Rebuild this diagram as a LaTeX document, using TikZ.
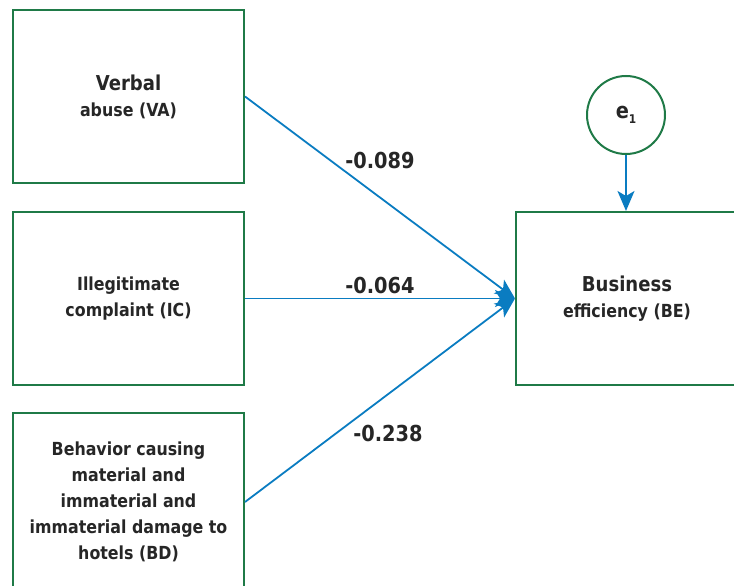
\documentclass[tikz,border=0pt]{standalone}
\usepackage{fontspec}
\setmainfont{DejaVu Sans}[FakeStretch=0.88]
\usetikzlibrary{arrows.meta}
\definecolor{boxgreen}{HTML}{1F7A47}
\definecolor{arrblue}{HTML}{0A7CC1}
\definecolor{txt}{HTML}{262626}
\begin{document}
\begin{tikzpicture}[x=1pt,y=-1pt,
  box/.style={draw=boxgreen, line width=2pt, rectangle, minimum width=231pt, minimum height=173pt,
    align=center, text=txt, font=\bfseries\fontsize{18}{26}\selectfont, inner sep=0pt},
  errc/.style={draw=boxgreen, line width=2pt, circle, minimum size=78pt, inner sep=0pt, text=txt,
    font=\bfseries\fontsize{22}{26}\selectfont},
  arr/.style={draw=arrblue, line width=1.8pt, -{Stealth[length=20pt,width=17pt,inset=5pt]}},
  coef/.style={text=txt, inner sep=0pt, font=\bfseries\fontsize{22}{26}\selectfont}]
\useasboundingbox (0,0) rectangle (734,586);
\begin{scope}
\clip (0,0) rectangle (734,586);
\node[box] (VA) at (128.5,96.5) {{\fontsize{20.5}{26}\selectfont Verbal}\\abuse (VA)};
\node[box] (IC) at (128.5,298.5) {Illegitimate\\complaint (IC)};
\node[box, minimum height=178pt] (BD) at (128.5,502) {Behavior causing\\material and\\immaterial and\\immaterial damage to\\hotels (BD)};
\node[box, minimum width=222pt] (BE) at (627,298.5) {{\fontsize{20.5}{26}\selectfont Business}\\efficiency (BE)};
\end{scope}
\node[errc] (e1) at (626,115) {e\raisebox{-5pt}{\fontsize{12}{12}\selectfont 1}};
\draw[arr] (e1) -- (e1 |- BE.north);
\draw[arr] (VA.east) -- (BE.west);
\draw[arr] (IC.east) -- (BE.west);
\draw[arr] (BD.east) -- (BE.west);
\node[coef] (l1) at (380,160) {-0.089};
\node[coef] (l2) at (380,285) {-0.064};
\node[coef] (l3) at (388,433) {-0.238};
\end{tikzpicture}
\end{document}
